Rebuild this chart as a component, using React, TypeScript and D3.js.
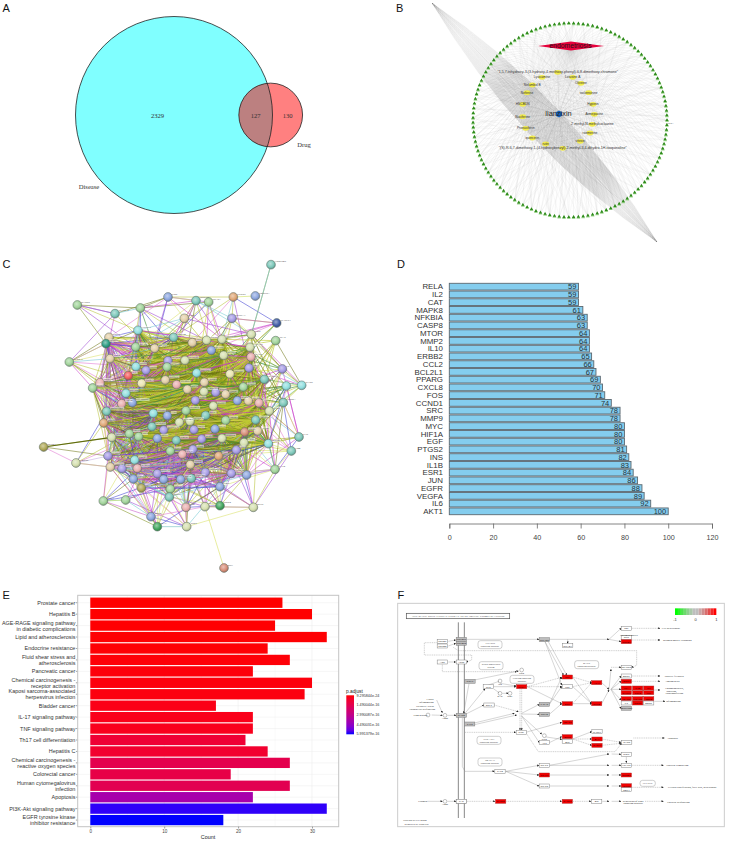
import React, { useEffect, useRef } from 'react';
import * as d3 from 'd3';

const SANS = '"Liberation Sans", Arial, sans-serif';
const SERIF = '"Liberation Serif", "Times New Roman", serif';

// Panel A
const vennNames = ['Disease', 'Drug'];
const vennCounts = [2329, 127, 130];

// Panel B
const targetCount = 127;
const compounds = [
  '"1,5,7-trihydroxy-3-(3-hydroxy-4-methoxy-phenyl)-6,8-dimethoxy-chromone"',
  'Lysicamine', 'Lotusine A', 'Oliveine', 'Nelumbol B', 'isoliensinine', 'Neferine', 'HSCBDN', 'Hyperin',
  'Nuciferine', 'Armepavine', "2'-methyl-N-methylcoclaurine", 'Pronuciferin', 'quercetin', 'roemerine',
  'vitexin', 'rutin',
  '"(S)-R-6,7-dimethoxy-1-(4-hydroxybenzyl)-2-methyl-3,4-dihydro-1H-isoquinoline"',
];
const compoundLayout = [
  [557.7, 72.3], [542, 77.3], [572.7, 77.3], [581, 83.3], [532.3, 85], [588.7, 92.7], [527, 92.7], [522.7, 104.3], [593, 104.3],
  [522.7, 116.7], [594.3, 114.3], [592.3, 124.3], [525.7, 128.3], [532.3, 138], [590, 133], [580.3, 141.3], [545.7, 144], [562.7, 148.3],
];

// Panel C, node layout read in 3x crop units
const stringGenes = [
  'HSD17B1', 'PDGFRA', 'PTGS1', 'PPARA', 'OPRM1', 'PGR', 'GSTP1', 'CYP1A2', 'DHCR7', 'SLC2A1', 'GLOD4', 'ABCC1', 'EPX', 'TYR', 'HBB', 'TYK2', 'ELK1', 'CYCS',
  'TP53', 'BAX', 'BCL2', 'MAPK14', 'SLC6A4', 'KDR', 'PLAT', 'F3', 'SCN5A', 'AR', 'CDK4', 'IGF1', 'CAV1', 'NOS2', 'ALB', 'NQO1',
  'PRKCA', 'CASP3', 'HMOX1', 'GSK3B', 'STAT1', 'STAT3', 'TNF', 'NOS3', 'CCND2', 'ICAM1', 'VCAM1', 'SELE', 'MMP1', 'MMP3', 'IL4', 'CXCL2',
  'CXCL10', 'MAPK1', 'MAPK3', 'MAP2', 'RB1', 'CDKN1A', 'CDKN2A', 'PIK3CG', 'PIK3R1', 'NCOA1', 'NCOA2', 'RXRA', 'PPARD', 'PPARGC1A', 'ACHE', 'BCHE',
  'ADRB2', 'ADRA1A', 'DRD2', 'HTR2A', 'CHRM1', 'GABRA1', 'SOD1', 'CAT2', 'GPX1', 'AHR', 'NR3C1', 'THBD', 'SERPINE1', 'SPP1', 'TGFB1', 'HGF',
  'IGFBP3', 'IRF1', 'ABCB1', 'ABCG2', 'CYP3A4', 'CYP19A1', 'CYP1B1', 'CYP1A1', 'ODC1', 'PLAU', 'PON1', 'APOB', 'APOD', 'LDLR', 'MPO', 'EDN1',
  'IKBKB', 'CHUK', 'NFE2L2', 'BIRC5', 'XIAP', 'PARP1', 'TOP2A', 'DPP4', 'GJA1', 'IFNG', 'ACE', 'REN', 'HIF1AN', 'ATM', 'CHEK2', 'MCL1',
  'BRCA1', 'PCNA', 'EZH2', 'CTNNB1', 'NR1I2', 'AKR1B1', 'KCNH2', 'F7', 'F10', 'PRSS1', 'CLDN4', 'MET',
];
const stringLayout: [number, number, string][] = [
  [753, 44, 'teal'], [706, 138, 'blue'], [640, 141, 'orange'], [566, 156, 'green'], [528, 152, 'teal'], [444, 141, 'blue'], [361, 174, 'green'], [285, 191, 'teal'], [172, 165, 'green'],
  [148, 336, 'green'], [71, 591, 'olive'], [168, 639, 'pale'], [612, 954, 'salmon'], [837, 561, 'teal'], [814, 603, 'teal'], [765, 658, 'green'], [700, 772, 'pale'], [845, 406, 'cyan'],
  [500, 830, 'pale'], [412, 830, 'darkgreen'], [393, 800, 'blue'], [770, 219, 'darkblue'], [636, 205, 'purple'], [694, 253, 'pale'], [767, 272, 'green'], [787, 357, 'purple'], [790, 458, 'teal'], [799, 408, 'cyan'],
  [250, 753, 'green'], [317, 750, 'green'], [555, 770, 'pale'], [600, 767, 'darkgreen'], [498, 772, 'pink'], [493, 205, 'tan'],
  [267, 262, 'tan'], [258, 281, 'darkteal'], [354, 241, 'cyan'], [461, 262, 'teal'], [347, 291, 'green'], [404, 295, 'tan'], [517, 278, 'tan'], [560, 271, 'pale'], [606, 268, 'pale'], [574, 301, 'blue'], [690, 292, 'pale'],
  [270, 326, 'tan'], [348, 350, 'cyan'], [378, 361, 'purple'], [325, 377, 'red'], [444, 332, 'purple'], [495, 331, 'pale'], [441, 351, 'green'], [611, 316, 'pale'], [693, 321, 'pink'],
  [687, 354, 'purple'], [630, 372, 'yellow'], [530, 369, 'cyan'], [436, 390, 'tan'], [470, 404, 'pink'], [365, 400, 'yellow'], [240, 398, 'pink'], [218, 414, 'green'], [318, 430, 'cyan'], [337, 458, 'blue'], [305, 461, 'pink'],
  [502, 418, 'tan'], [553, 397, 'tan'], [552, 425, 'pale'], [587, 427, 'purple'], [617, 433, 'tan'], [670, 411, 'green'], [733, 388, 'teal'],
  [526, 451, 'purple'], [652, 452, 'blue'], [685, 453, 'tan'], [717, 459, 'pink'], [580, 468, 'pale'], [748, 483, 'pale'],
  [260, 484, 'teal'], [251, 519, 'orange'], [400, 490, 'cyan'], [442, 497, 'blue'], [498, 482, 'green'], [557, 496, 'teal'], [617, 511, 'green'], [707, 510, 'teal'],
  [396, 530, 'teal'], [431, 540, 'purple'], [478, 517, 'pale'], [510, 514, 'pale'], [522, 539, 'purple'], [585, 537, 'blue'], [674, 546, 'salmon'], [713, 543, 'tan'],
  [275, 562, 'pale'], [328, 551, 'green'], [356, 560, 'green'], [412, 565, 'blue'], [469, 571, 'teal'], [545, 567, 'purple'], [606, 565, 'pale'], [745, 581, 'cyan'], [672, 578, 'pale'],
  [264, 618, 'purple'], [344, 630, 'cyan'], [451, 603, 'green'], [487, 613, 'pink'], [519, 598, 'purple'], [596, 618, 'orange'], [649, 600, 'purple'],
  [271, 651, 'tan'], [306, 656, 'purple'], [352, 655, 'pink'], [340, 687, 'blue'], [412, 671, 'purple'], [431, 688, 'blue'], [482, 688, 'blue'], [514, 685, 'teal'], [511, 644, 'tan'], [556, 667, 'purple'], [634, 670, 'purple'], [680, 675, 'blue'],
  [364, 714, 'olive'], [451, 717, 'green'], [448, 741, 'teal'], [600, 710, 'blue'],
];
const stringTints: Record<string, string> = {
  teal: '#7fc9bb', green: '#a3d59c', pale: '#d6e0b0', tan: '#e3cfa8', blue: '#8fa8e0', purple: '#a79ce6', pink: '#eab0b0', cyan: '#93e0e0',
  olive: '#b0a95a', orange: '#e0a878', red: '#f26060', darkgreen: '#45a860', darkblue: '#4560a8', salmon: '#d8907a', yellow: '#ebe6b0', darkteal: '#2f9f85',
};
// peripheral links that stand apart from the dense core: [from, to, colour]
const stringLinks: [number, number, string][] = [
  [0, 23, '#7a9a20'], [0, 23, '#7fc8d8'], [10, 94, '#5e6a10'], [11, 110, '#d0a0c0'], [11, 103, '#c8b0e0'], [12, 30, '#d8e060'], [8, 7, '#c860c8'], [8, 35, '#8a9a30'], [9, 35, '#d0e060'], [9, 60, '#8a9a30'], [9, 45, '#7fc8d8'],
  [13, 26, '#d0e060'], [13, 101, '#d0e060'], [14, 101, '#d0e060'], [15, 120, '#c8a0e0'], [15, 121, '#c8a0e0'], [15, 101, '#70c0c0'], [16, 125, '#c860c8'], [16, 30, '#d0e060'], [17, 27, '#d0e060'], [17, 25, '#8a9a30'], [21, 22, '#c860c8'], [21, 44, '#c0d040'],
  [28, 29, '#d0e060'], [28, 19, '#8a9a30'], [28, 20, '#c860c8'], [18, 19, '#70c0c0'], [18, 32, '#d0e060'], [19, 20, '#8a9a30'], [1, 2, '#d0e060'],
];

// Panel D
const degreeGenes = ['RELA', 'IL2', 'CAT', 'MAPK8', 'NFKBIA', 'CASP8', 'MTOR', 'MMP2', 'IL10', 'ERBB2', 'CCL2', 'BCL2L1', 'PPARG', 'CXCL8', 'FOS', 'CCND1', 'SRC', 'MMP9', 'MYC', 'HIF1A', 'EGF', 'PTGS2', 'INS', 'IL1B', 'ESR1', 'JUN', 'EGFR', 'VEGFA', 'IL6', 'AKT1'];
const degreeValues = [59, 59, 59, 61, 63, 63, 64, 64, 64, 65, 66, 67, 69, 70, 71, 74, 78, 78, 80, 80, 80, 81, 82, 83, 84, 86, 88, 89, 92, 100];
const degreeTicks = [0, 20, 40, 60, 80, 100, 120];

// Panel E
const keggTerms = [
  'Prostate cancer', 'Hepatitis B', 'AGE-RAGE signaling pathway\nin diabetic complications', 'Lipid and atherosclerosis', 'Endocrine resistance',
  'Fluid shear stress and\natherosclerosis', 'Pancreatic cancer', 'Chemical carcinogenesis -\nreceptor activation', 'Kaposi sarcoma-associated\nherpesvirus infection', 'Bladder cancer',
  'IL-17 signaling pathway', 'TNF signaling pathway', 'Th17 cell differentiation', 'Hepatitis C', 'Chemical carcinogenesis -\nreactive oxygen species',
  'Colorectal cancer', 'Human cytomegalovirus\ninfection', 'Apoptosis', 'PI3K-Akt signaling pathway', 'EGFR tyrosine kinase\ninhibitor resistance',
];
const keggCounts = [26, 30, 25, 32, 24, 27, 22, 30, 29, 17, 22, 22, 21, 24, 27, 19, 27, 22, 32, 18];
const keggPadjE16 = [0.001, 0.01, 0.02, 0.03, 0.05, 0.08, 0.1, 0.12, 0.15, 0.25, 0.3, 0.35, 0.85, 0.7, 1.45, 1.3, 1.55, 3.9, 5.85, 5.99];
const padjTicks = ['9.295844e-24', '1.490044e-16', '2.990087e-16', '4.490031e-16', '5.991379e-16'];

// Panel F, pathway map read in 3x crop units
type KeggBox = [string, number, number, 'w' | 'r' | 'g'];
const pathwayBoxes: KeggBox[] = [
  ['TGFB1', 172, 154, 'w'], ['TGFB2', 172, 168, 'w'], ['TGFBR1', 229, 148, 'g'], ['TGFBR2', 229, 160, 'g'], ['AGT', 172, 216, 'w'], ['AT1R', 229, 216, 'w'],
  ['NOX1', 255, 274, 'g'], ['RAGE', 229, 376, 'g'], ['JAK2', 254, 402, 'g'], ['ICAM1', 229, 634, 'w'], ['PLC', 310, 290, 'w'], ['Dia-1', 312, 345, 'w'],
  ['SMAD2', 478, 149, 'g'], ['SMAD4', 548, 167, 'w'], ['p21', 724, 115, 'w'], ['Col1', 724, 142, 'w'], ['TGFB1', 724, 155, 'r'], ['NFATC1', 724, 232, 'w'],
  ['EGR1', 724, 258, 'w'], ['VEGFA', 724, 274, 'r'], ['IL1A', 724, 294, 'r'], ['IL1B', 758, 294, 'r'], ['IL6', 791, 294, 'r'], ['CXCL8', 724, 308, 'r'], ['CCL2', 758, 308, 'r'], ['TNF', 791, 308, 'r'],
  ['ICAM1', 724, 326, 'r'], ['VCAM1', 758, 326, 'r'], ['SELE', 791, 326, 'r'], ['F3', 724, 339, 'w'], ['NOS3', 758, 339, 'r'], ['EDN1', 791, 339, 'w'], ['SERPINE1', 724, 355, 'g'],
  ['PKCA', 410, 290, 'r'], ['JNK', 547, 261, 'r'], ['p38', 547, 290, 'w'], ['ERK', 547, 341, 'r'], ['AP-1', 635, 278, 'r'], ['NFKB', 635, 341, 'r'], ['STAT3', 548, 397, 'r'],
  ['BCL2', 547, 440, 'r'], ['Bim', 547, 455, 'w'], ['CASP9', 636, 425, 'w'], ['BAX', 636, 447, 'r'], ['CASP3', 636, 466, 'r'], ['CYCS', 725, 457, 'w'], ['PI3K', 409, 427, 'w'],
  ['K-RAS', 478, 343, 'g'], ['Cdc42', 478, 373, 'g'], ['AKT', 478, 458, 'w'], ['Rap1', 724, 493, 'w'], ['VCAM1', 724, 526, 'w'], ['STAT1', 478, 526, 'w'], ['STAT3', 478, 555, 'r'], ['STAT5', 478, 588, 'w'],
  ['JAK2', 345, 544, 'w'], ['CCND1', 724, 555, 'r'], ['Cyclin', 724, 587, 'r'], ['CDK4', 724, 599, 'w'], ['CASP8', 347, 634, 'r'], ['CASP3', 547, 634, 'r'], ['Bid', 635, 634, 'w'], ['FAS', 229, 634, 'w'],
];
const pathwayNotes: [string[], number, number][] = [
  [['TGF-beta', 'signaling pathway'], 315, 164], [['Renin-angiotensin', 'system'], 318, 227], [['Calcium signaling', 'pathway'], 411, 268], [['MAPK', 'signaling pathway'], 605, 224],
  [['PI3K-AKT', 'signaling pathway'], 312, 451], [['Jak-STAT', 'signaling pathway'], 315, 516], [['Cell cycle'], 788, 580],
];
const pathwayLabels: [string, number, number][] = [
  ['High glucose', 107, 376], ['Lipids', 135, 326], ['Inflammation', 124, 337], ['Oxidative Stress', 120, 347], ['Endothelial dysfunction', 112, 357], ['Plasmin', 113, 634],
  ['Cell hypertrophy', 858, 115], ['Collagen/matrix', 732, 134], ['Mitogen/matrix expansion', 877, 150], ['Positive feedback', 868, 258], ['Angiogenesis', 862, 274],
  ['Thrombogenesis,', 868, 295], ['adhesion,', 860, 302], ['vasoconstriction', 868, 309], ['Inflammation', 865, 334], ['Apoptosis', 862, 444], ['Vascular remodeling', 877, 526],
  ['Cellular proliferation, fatty acid, hypertrophy', 922, 592], ['Vascular dysfunction', 880, 635], ['Regulation of Rho1', 745, 632], ['signaling pathway', 745, 638],
  ['Data on KEGG graph', 90, 690], ['Rendered by Pathview', 95, 702],
];
const pathwayDots: [number, number, string][] = [
  [129, 375, ''], [180, 376, 'AGEs'], [345, 273, 'IP3'], [345, 310, 'DAG'], [375, 310, 'Ca2+'], [410, 240, 'PIP2'], [180, 634, 'AGEs'], [478, 437, 'PIP3'],
];
const pathwayLines: [number[], 's' | 'd'][] = [
  [[245, 148, 462, 148], 's'], [[494, 148, 672, 148], 's'], [[548, 148, 548, 160], 's'], [[672, 148, 708, 115], 's'], [[672, 148, 708, 155], 's'], [[190, 154, 212, 150], 's'], [[190, 168, 212, 160], 's'],
  [[155, 158, 118, 158, 118, 195, 260, 195, 260, 210, 245, 216], 'd'], [[205, 172, 220, 182, 755, 182, 755, 226, 740, 232], 'd'], [[190, 216, 212, 216], 's'], [[172, 224, 172, 245, 395, 245], 'd'],
  [[740, 115, 825, 115], 'd'], [[740, 150, 825, 150], 'd'], [[740, 258, 825, 258], 'd'], [[740, 274, 825, 274], 'd'], [[808, 300, 825, 300], 's'], [[808, 334, 840, 334], 's'],
  [[268, 270, 400, 243], 's'], [[252, 281, 236, 370], 's'], [[240, 370, 300, 296], 's'], [[325, 290, 393, 290], 's'], [[310, 285, 345, 273], 's'], [[345, 280, 393, 288], 's'], [[325, 296, 345, 310], 's'], [[352, 310, 370, 310], 's'],
  [[243, 372, 297, 345], 's'], [[327, 345, 400, 365], 'd'], [[427, 290, 530, 262], 'd'], [[427, 290, 530, 290], 'd'], [[427, 290, 530, 341], 's'], [[410, 298, 410, 420], 'd'], [[405, 298, 405, 420], 'd'],
  [[480, 155, 535, 255], 's'], [[490, 155, 545, 255], 's'], [[480, 155, 530, 285], 's'], [[410, 370, 463, 343], 's'], [[410, 372, 463, 373], 's'], [[493, 343, 530, 262], 's'], [[493, 343, 530, 290], 's'], [[493, 373, 530, 341], 's'],
  [[563, 261, 620, 278], 'd'], [[563, 290, 620, 278], 'd'], [[563, 341, 620, 278], 'd'], [[563, 261, 620, 341], 's'], [[563, 290, 620, 341], 's'], [[563, 341, 620, 341], 's'], [[650, 278, 672, 298], 's'], [[650, 341, 672, 300], 's'],
  [[678, 232, 708, 232], 'd'], [[672, 298, 678, 238], 's'], [[678, 298, 708, 258], 's'], [[678, 298, 708, 274], 's'], [[678, 298, 708, 298], 's'], [[678, 298, 708, 330], 's'], [[678, 298, 708, 355], 's'],
  [[264, 400, 388, 370], 's'], [[264, 405, 395, 375], 's'], [[240, 427, 392, 427], 'd'], [[232, 384, 232, 530, 240, 544, 328, 544], 's'], [[410, 378, 470, 432], 's'], [[410, 378, 463, 458], 's'], [[422, 427, 530, 397], 's'], [[493, 458, 530, 440], 's'], [[478, 440, 530, 448], 's'],
  [[422, 427, 460, 485, 690, 485, 710, 460], 'd'], [[563, 447, 620, 425], 's'], [[563, 447, 620, 447], 'd'], [[563, 447, 620, 466], 'd'], [[650, 447, 708, 457], 'd'], [[650, 466, 708, 460], 'd'], [[745, 444, 838, 444], 'd'],
  [[362, 544, 462, 526], 's'], [[362, 544, 462, 555], 's'], [[362, 544, 462, 588], 's'], [[494, 526, 672, 492], 's'], [[494, 526, 672, 526], 's'], [[494, 555, 672, 555], 's'], [[494, 588, 672, 588], 's'],
  [[680, 492, 708, 493], 's'], [[680, 526, 708, 526], 's'], [[680, 555, 708, 555], 's'], [[680, 588, 708, 588], 's'], [[724, 500, 724, 518], 's'], [[740, 526, 835, 526], 'd'], [[740, 592, 835, 592], 'd'],
  [[127, 634, 172, 634], 's'], [[188, 634, 213, 634], 's'], [[245, 634, 330, 634], 'd'], [[364, 634, 530, 634], 'd'], [[564, 634, 618, 634], 'd'], [[652, 634, 672, 634], 's'], [[680, 634, 708, 634], 's'], [[780, 634, 835, 634], 'd'],
  [[140, 375, 172, 376], 's'], [[188, 376, 213, 376], 's'], [[155, 330, 172, 368], 's'],
];
const foldSwatches = ['#00ff00', '#29f029', '#4de24d', '#6fd86f', '#8fce8f', '#a9c8a9', '#bebebe', '#bebebe', '#c8a9a9', '#ce8f8f', '#d86f6f', '#e24d4d', '#f02929', '#ff0000'];

const panelLetters: [string, number, number][] = [['A', 2.5, 11.5], ['B', 396, 11.5], ['C', 2.5, 268], ['D', 397, 268], ['E', 2.5, 599], ['F', 397.5, 599]];

function drawVenn(svg: any) {
  const r = d3.scaleSqrt().domain([0, vennCounts[0] + vennCounts[1]]).range([0, 98.5]);
  const big = { cx: 174, cy: 115, r: r(vennCounts[0] + vennCounts[1]) };
  const small = { cx: 270.7, cy: 115, r: r(vennCounts[1] + vennCounts[2]) };
  const g = svg.append('g');
  g.append('clipPath').attr('id', 'venn-clip').append('circle').attr('cx', big.cx).attr('cy', big.cy).attr('r', big.r);
  g.append('circle').attr('cx', big.cx).attr('cy', big.cy).attr('r', big.r).attr('fill', '#80ffff');
  g.append('circle').attr('cx', small.cx).attr('cy', small.cy).attr('r', small.r).attr('fill', '#ff8080');
  g.append('circle').attr('cx', small.cx).attr('cy', small.cy).attr('r', small.r).attr('fill', '#bc8080').attr('clip-path', 'url(#venn-clip)');
  [big, small].forEach(c => g.append('circle').attr('cx', c.cx).attr('cy', c.cy).attr('r', c.r).attr('fill', 'none').attr('stroke', '#222').attr('stroke-width', 0.8));
  const t = (s: any, x: number, y: number) => g.append('text').attr('x', x).attr('y', y).attr('text-anchor', 'middle').attr('font-family', SERIF).attr('font-size', 6.6).attr('fill', '#333').text(s);
  t(vennCounts[0], 157.5, 117.5);
  t(vennCounts[1], 255.7, 117.5);
  t(vennCounts[2], 287.7, 117.5);
  t(vennNames[0], 89, 189);
  t(vennNames[1], 304, 146.5);
}

function drawRing(svg: any) {
  const g = svg.append('g');
  const cx = 570;
  const cy = 120.5;
  const angle = d3.scaleLinear().domain([0, targetCount]).range([0, 2 * Math.PI]);
  const targets = d3.range(targetCount).map(i => ({
    x: cx + 97 * Math.cos(angle(i)),
    y: cy + 97 * Math.sin(angle(i)),
  }));
  const disease = { x: 571, y: 46 };
  const hub = { x: 559, y: 114 };
  const line = (a: any, b: any, stroke: string, w: number, o: number) =>
    g.append('line').attr('x1', a.x).attr('y1', a.y).attr('x2', b.x).attr('y2', b.y).attr('stroke', stroke).attr('stroke-width', w).attr('stroke-opacity', o);

  targets.forEach(t => line(t, disease, '#aaa', 0.22, 0.5));
  targets.forEach((t, i) => { if (i % 3 === 0) line(t, hub, '#bbb', 0.2, 0.5); });
  compoundLayout.forEach(([x, y], c) => {
    const heavy = c === 13 || c === 6 || c === 15;
    targets.forEach((t, i) => {
      if ((i * (c + 3) + c * 11) % (heavy ? 2 : 4) === 0) line(t, { x, y }, '#aaa', 0.18, 0.45);
    });
    line({ x, y }, hub, '#888', 0.25, 0.6);
  });

  // the long bundle of parallel curved edges running through the ring
  const A = { x: 432, y: 3 };
  const B = { x: 657, y: 242 };
  const grad = g.append('linearGradient').attr('id', 'bundle').attr('gradientUnits', 'userSpaceOnUse')
    .attr('x1', A.x).attr('y1', A.y).attr('x2', B.x).attr('y2', B.y);
  [[0, 0.08], [0.15, 0.12], [0.25, 0.22], [0.33, 0.55], [0.72, 0.55], [0.82, 0.2], [1, 0.08]].forEach(([o, a]) =>
    grad.append('stop').attr('offset', o).attr('stop-color', '#555').attr('stop-opacity', a));
  d3.range(-45, 46).forEach(k => {
    const off = k * 0.82;
    const p = d3.path();
    p.moveTo(A.x, A.y);
    p.quadraticCurveTo((A.x + B.x) / 2 + 0.729 * off, (A.y + B.y) / 2 - 0.686 * off, B.x, B.y);
    g.append('path').attr('d', p.toString()).attr('fill', 'none').attr('stroke', 'url(#bundle)').attr('stroke-width', 0.2);
  });

  const tri = d3.symbol().type(d3.symbolTriangle).size(7);
  targets.forEach(t => {
    g.append('path').attr('d', tri()).attr('transform', `translate(${t.x},${t.y + 0.4})`).attr('fill', '#9ed68e');
    g.append('path').attr('d', d3.symbol().type(d3.symbolTriangle).size(5)()).attr('transform', `translate(${t.x},${t.y - 0.4})`).attr('fill', '#2f8a1c');
  });
  g.append('text').attr('x', 670).attr('y', 124).attr('text-anchor', 'middle').attr('font-family', SANS).attr('font-size', 2.4).attr('fill', '#444').text('HIF1A');

  const diamond = d3.line()([[disease.x - 33, disease.y], [disease.x, disease.y - 4.5], [disease.x + 33, disease.y], [disease.x, disease.y + 4.5]]) + 'Z';
  g.append('path').attr('d', diamond).attr('fill', '#e6003c');
  g.append('text').attr('x', disease.x - 0.5).attr('y', disease.y + 2.3).attr('text-anchor', 'middle').attr('font-family', SANS).attr('font-size', 6.8).attr('fill', '#2a1015').text('endometriosis');

  compoundLayout.forEach(([x, y], c) => {
    g.append('ellipse').attr('cx', x).attr('cy', y).attr('rx', 3.4).attr('ry', 2.4).attr('fill', '#f2ec4c');
    g.append('text').attr('x', x).attr('y', y + 1).attr('text-anchor', 'middle').attr('font-family', SANS)
      .attr('font-size', c === 0 || c === 17 ? 3.6 : 3.3).attr('fill', '#333').text(compounds[c]);
  });
  const hex = d3.line()(d3.range(6).map(i => [hub.x + 3.6 * Math.cos(i * Math.PI / 3 + Math.PI / 6), hub.y + 3.6 * Math.sin(i * Math.PI / 3 + Math.PI / 6)] as [number, number])) + 'Z';
  g.append('path').attr('d', hex).attr('fill', '#1464c0');
  g.append('text').attr('x', hub.x - 0.5).attr('y', hub.y + 2.4).attr('text-anchor', 'middle').attr('font-family', SANS).attr('font-size', 7.4).attr('fill', '#222').text('lianzixin');
}

function drawString(svg: any) {
  const g = svg.append('g');
  const x = d3.scaleLinear().domain([0, 960]).range([20, 340]);
  const y = d3.scaleLinear().domain([0, 1020]).range([250, 590]);
  const core = ['#b8c82c', '#a3ad1e', '#d6dc44', '#6c7412', '#c3c936', '#93a018', '#c837c8', '#3f8f3a'];
  const rim = ['#c837c8', '#9a3fd0', '#e070d0', '#b5c030', '#d8e060', '#3a3ad0', '#70c8d0', '#6c7412'];
  const n = stringLayout.length;
  for (let i = 0; i < n; i++) {
    for (let j = i + 1; j < n; j++) {
      const [xa, ya] = stringLayout[i];
      const [xb, yb] = stringLayout[j];
      const d = Math.hypot(xa - xb, ya - yb);
      const mx = (xa + xb) / 2;
      const my = (ya + yb) / 2;
      const h = ((Math.imul(i + 1, 73856093) ^ Math.imul(j + 1, 19349663)) >>> 0) % 1000;
      const isCore = mx > 380 && mx < 760 && my > 260 && my < 600;
      const keep = i >= 34 && d < (isCore ? 340 : 300) && h < (isCore ? 950 : 800);
      const upper = i < 34 && i > 1 && d < 230 && h < 480 && i !== 12;
      if (!keep && !upper) continue;
      const pal = isCore ? core : rim;
      g.append('line').attr('x1', x(xa)).attr('y1', y(ya)).attr('x2', x(xb)).attr('y2', y(yb))
        .attr('stroke', pal[(h >> 2) % pal.length]).attr('stroke-width', isCore ? 0.7 : 0.6).attr('stroke-opacity', 0.9);
    }
  }
  stringLinks.forEach(([a, b, c]) => {
    const [xa, ya] = stringLayout[a];
    const [xb, yb] = stringLayout[b];
    g.append('line').attr('x1', x(xa)).attr('y1', y(ya)).attr('x2', x(xb)).attr('y2', y(yb)).attr('stroke', c).attr('stroke-width', a === 10 ? 1.1 : 0.6);
  });
  const defs = g.append('defs');
  Object.entries(stringTints).forEach(([key, c]) => {
    const rg = defs.append('radialGradient').attr('id', `ball-${key}`).attr('cx', '42%').attr('cy', '38%').attr('r', '60%');
    rg.append('stop').attr('offset', '0%').attr('stop-color', d3.interpolateRgb(c, '#fff')(0.45));
    rg.append('stop').attr('offset', '65%').attr('stop-color', c);
    rg.append('stop').attr('offset', '100%').attr('stop-color', d3.color(c)!.darker(0.7).formatHex());
  });
  stringLayout.forEach(([xv, yv, tint]) => {
    g.append('circle').attr('cx', x(xv)).attr('cy', y(yv)).attr('r', 4.4).attr('fill', `url(#ball-${tint})`).attr('stroke', '#5f6f66').attr('stroke-width', 0.55);
  });
  stringLayout.forEach(([xv, yv], i) => {
    const name = stringGenes[i];
    const tx = x(xv) + 4;
    const ty = y(yv) - 2.2;
    if (i > 33) g.append('rect').attr('x', tx - 0.5).attr('y', ty - 2.4).attr('width', name.length * 1.6 + 1).attr('height', 2.9).attr('fill', '#fff').attr('fill-opacity', 0.5);
    g.append('text').attr('x', tx).attr('y', ty).attr('font-family', SANS).attr('font-size', 2.5).attr('fill', '#666').text(name);
  });
}

function drawDegree(svg: any) {
  const x = d3.scaleLinear().domain([0, 120]).range([449.3, 712]);
  const y = d3.scaleBand().domain(degreeGenes).range([282.8, 515.2]).paddingInner(0.13).paddingOuter(0.065);
  const g = svg.append('g');
  degreeGenes.forEach((name, i) => {
    const v = degreeValues[i];
    g.append('rect').attr('x', x(0)).attr('y', y(name)).attr('width', x(v) - x(0)).attr('height', y.bandwidth())
      .attr('fill', '#84cdee').attr('stroke', '#5c6870').attr('stroke-width', 0.9);
    g.append('text').attr('x', x(v) - 2).attr('y', y(name)! + y.bandwidth() / 2 + 2.7).attr('text-anchor', 'end')
      .attr('font-family', SANS).attr('font-size', 7.5).attr('fill', '#26343c').text(v);
    g.append('text').attr('x', 443).attr('y', y(name)! + y.bandwidth() / 2 + 2.8).attr('text-anchor', 'end')
      .attr('font-family', SANS).attr('font-size', 7.9).attr('fill', '#333').text(name);
  });
  const axis = g.append('g').attr('transform', 'translate(0,523.5)')
    .call(d3.axisBottom(x).tickValues(degreeTicks).tickSize(5).tickPadding(6).tickFormat(d3.format('d')));
  axis.selectAll('path,line').attr('stroke', '#666').attr('stroke-width', 0.8);
  axis.selectAll('text').attr('font-family', SANS).attr('font-size', 7.2).attr('fill', '#444');
}

function drawEnrich(svg: any) {
  const x = d3.scaleLinear().domain([0, 30]).range([90.3, 312]);
  const y = d3.scaleBand().domain(keggTerms).range([597, 825.8]).paddingInner(0.1).paddingOuter(0.05);
  const color = d3.scaleLinear<string>().domain([0, 5.99]).range(['#ff0000', '#0000ff']).interpolate(d3.interpolateLab);
  const g = svg.append('g');
  const L = 77.7;
  const R = 338.7;
  const T = 595.3;
  const B = 826.7;
  d3.range(0, 35, 5).forEach(v => {
    g.append('line').attr('x1', x(v)).attr('x2', x(v)).attr('y1', T).attr('y2', B).attr('stroke', '#ececec').attr('stroke-width', v % 10 === 0 ? 0.6 : 0.3);
  });
  keggTerms.forEach((term, i) => {
    const cy = y(term)! + y.bandwidth() / 2;
    g.append('line').attr('x1', L).attr('x2', R).attr('y1', cy).attr('y2', cy).attr('stroke', '#ececec').attr('stroke-width', 0.5);
    g.append('rect').attr('x', x(0)).attr('y', y(term)).attr('width', x(keggCounts[i]) - x(0)).attr('height', y.bandwidth()).attr('fill', color(keggPadjE16[i]));
    g.append('line').attr('x1', L - 1.8).attr('x2', L).attr('y1', cy).attr('y2', cy).attr('stroke', '#444').attr('stroke-width', 0.5);
    const lines = term.split('\n');
    lines.forEach((ln, k) => {
      g.append('text').attr('x', 75.4).attr('y', cy + 2 + (k - (lines.length - 1) / 2) * 5.8).attr('text-anchor', 'end')
        .attr('font-family', SANS).attr('font-size', 5.45).attr('fill', '#333').text(ln);
    });
  });
  g.append('rect').attr('x', L).attr('y', T).attr('width', R - L).attr('height', B - T).attr('fill', 'none').attr('stroke', '#c4c4c4').attr('stroke-width', 1);
  const axis = g.append('g').attr('transform', `translate(0,${B})`).call(d3.axisBottom(x).tickValues([0, 10, 20, 30]).tickSize(1.8).tickPadding(1.5));
  axis.select('.domain').remove();
  axis.selectAll('line').attr('stroke', '#444').attr('stroke-width', 0.5);
  axis.selectAll('text').attr('font-family', SANS).attr('font-size', 4.6).attr('fill', '#444');
  g.append('text').attr('x', 208).attr('y', 839).attr('text-anchor', 'middle').attr('font-family', SANS).attr('font-size', 5.4).attr('fill', '#222').text('Count');

  // colour bar
  const lg = g.append('linearGradient').attr('id', 'padj').attr('x1', 0).attr('y1', 0).attr('x2', 0).attr('y2', 1);
  d3.range(0, 1.01, 0.1).forEach(o => lg.append('stop').attr('offset', o).attr('stop-color', color(o * 5.99)));
  g.append('rect').attr('x', 346.3).attr('y', 695.3).attr('width', 7.7).attr('height', 39).attr('fill', 'url(#padj)');
  g.append('text').attr('x', 346).attr('y', 692.5).attr('font-family', SANS).attr('font-size', 4.8).attr('fill', '#222').text('p.adjust');
  const ly = d3.scalePoint().domain(padjTicks).range([695.6, 734]);
  padjTicks.forEach(t => {
    g.append('text').attr('x', 356.5).attr('y', ly(t)! + 1.2).attr('font-family', SANS).attr('font-size', 3.7).attr('fill', '#333').text(t);
  });
}

function drawPathway(svg: any) {
  const x = d3.scaleLinear().domain([0, 1032]).range([385, 729]);
  const y = d3.scaleLinear().domain([0, 756]).range([590, 842]);
  const g = svg.append('g');
  g.append('rect').attr('x', x(38)).attr('y', y(40)).attr('width', x(1018) - x(38)).attr('height', y(710) - y(40)).attr('fill', '#fff').attr('stroke', '#ccc').attr('stroke-width', 1);
  g.append('rect').attr('x', x(64)).attr('y', y(70)).attr('width', x(374) - x(64)).attr('height', y(86) - y(70)).attr('fill', '#fff').attr('stroke', '#555').attr('stroke-width', 0.7);
  g.append('text').attr('x', x(219)).attr('y', y(81)).attr('text-anchor', 'middle').attr('font-family', SERIF).attr('font-size', 2.9).attr('letter-spacing', 0.12).attr('fill', '#222').text('AGE-RAGE SIGNALING PATHWAY IN DIABETIC COMPLICATIONS');

  [220, 238].forEach(v => g.append('line').attr('x1', x(v)).attr('x2', x(v)).attr('y1', y(97)).attr('y2', y(684)).attr('stroke', '#888').attr('stroke-width', 1));

  g.append('marker').attr('id', 'arrow').attr('viewBox', '0 0 6 6').attr('refX', 5).attr('refY', 3).attr('markerWidth', 2.2).attr('markerHeight', 2.2).attr('markerUnits', 'userSpaceOnUse').attr('orient', 'auto')
    .append('path').attr('d', 'M0,0L6,3L0,6Z').attr('fill', '#222');
  const lineGen = d3.line<[number, number]>().x(d => x(d[0])).y(d => y(d[1]));
  pathwayLines.forEach(([pts, kind]) => {
    const coords: [number, number][] = d3.range(0, pts.length, 2).map(i => [pts[i], pts[i + 1]]);
    g.append('path').attr('d', lineGen(coords)).attr('fill', 'none').attr('stroke', kind === 'd' ? '#777' : '#888').attr('stroke-width', 0.35)
      .attr('stroke-dasharray', kind === 'd' ? '1.1,0.7' : null).attr('marker-end', 'url(#arrow)');
  });

  pathwayDots.forEach(([cx, cy, label]) => {
    g.append('circle').attr('cx', x(cx)).attr('cy', y(cy)).attr('r', 1.9).attr('fill', '#fff').attr('stroke', '#555').attr('stroke-width', 0.35);
    if (label) g.append('text').attr('x', x(cx)).attr('y', y(cy + 12)).attr('text-anchor', 'middle').attr('font-family', SANS).attr('font-size', 2.3).attr('fill', '#333').text(label);
  });

  pathwayNotes.forEach(([lines, cx, cy]) => {
    const w = lines[0] === 'Cell cycle' ? 46 : 72;
    const h = lines.length > 1 ? 24 : 18;
    g.append('rect').attr('x', x(cx - w / 2)).attr('y', y(cy - h / 2)).attr('width', x(w) - x(0)).attr('height', y(h) - y(0)).attr('rx', 2.5).attr('fill', '#fff').attr('stroke', '#888').attr('stroke-width', 0.4);
    lines.forEach((t, i) => {
      g.append('text').attr('x', x(cx)).attr('y', y(cy) + 0.9 + (i - (lines.length - 1) / 2) * 3).attr('text-anchor', 'middle').attr('font-family', SERIF).attr('font-size', 2.5).attr('fill', '#333').text(t);
    });
  });

  pathwayBoxes.forEach(([name, cx, cy, kind]) => {
    const w = 31;
    const h = 12;
    const fill = kind === 'r' ? '#f00000' : kind === 'g' ? '#bdbdbd' : '#fff';
    g.append('rect').attr('x', x(cx - w / 2)).attr('y', y(cy - h / 2)).attr('width', x(w) - x(0)).attr('height', y(h) - y(0))
      .attr('fill', fill).attr('stroke', kind === 'r' ? '#a33' : '#777').attr('stroke-width', 0.45);
    g.append('text').attr('x', x(cx)).attr('y', y(cy) + 0.9).attr('text-anchor', 'middle').attr('font-family', SANS).attr('font-size', 2.5)
      .attr('fill', kind === 'r' ? '#400' : '#333').text(name);
  });

  pathwayLabels.forEach(([t, cx, cy]) => {
    g.append('text').attr('x', x(cx)).attr('y', y(cy) + 0.9).attr('text-anchor', 'middle').attr('font-family', SERIF).attr('font-size', 2.7).attr('fill', '#222').text(t);
  });

  const sw = d3.scaleBand().domain(foldSwatches.map((_, i) => String(i))).range([x(870), x(994)]);
  foldSwatches.forEach((c, i) => {
    g.append('rect').attr('x', sw(String(i))).attr('y', y(55)).attr('width', sw.bandwidth()).attr('height', y(75) - y(55)).attr('fill', c);
  });
  [['-1', 870], ['0', 932], ['1', 994]].forEach(([t, v]) => {
    g.append('text').attr('x', x(v as number)).attr('y', y(94)).attr('text-anchor', 'middle').attr('font-family', SANS).attr('font-size', 4).attr('fill', '#333').text(t);
  });
}

const App = () => {
  const ref = useRef<SVGSVGElement>(null);

  useEffect(() => {
    const svg = d3.select(ref.current);
    svg.selectAll('*').remove();
    svg.append('rect').attr('width', 729).attr('height', 842).attr('fill', '#fff');
    drawVenn(svg);
    drawRing(svg);
    drawString(svg);
    drawDegree(svg);
    drawEnrich(svg);
    drawPathway(svg);
    panelLetters.forEach(([t, x, y]) => {
      svg.append('text').attr('x', x).attr('y', y).attr('font-family', SANS).attr('font-size', 11).attr('fill', '#111').text(t);
    });
  }, []);

  return <svg ref={ref} width={729} height={842} style={{ position: 'absolute', left: 0, top: 0, display: 'block' }} />;
};

export default App;
